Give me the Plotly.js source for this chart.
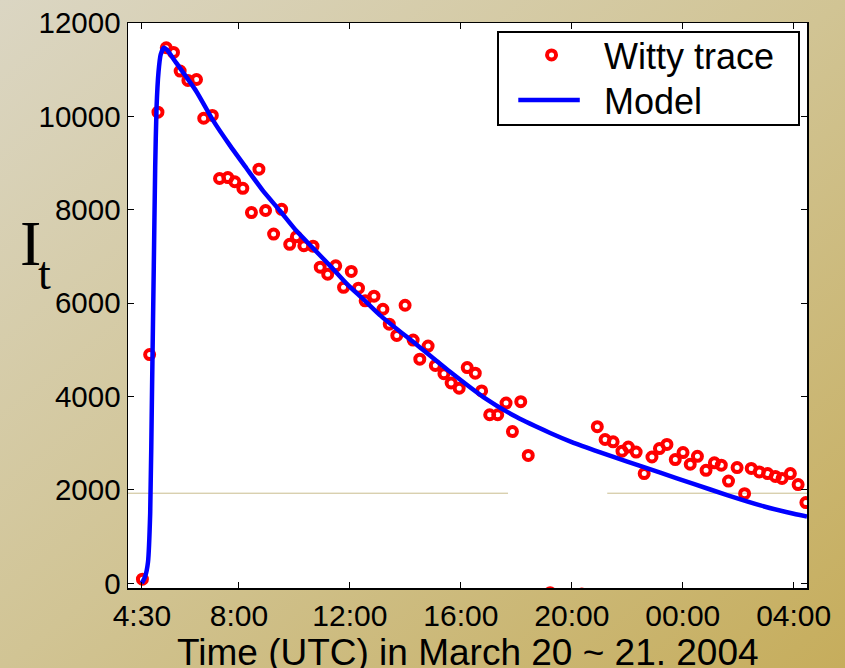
<!DOCTYPE html>
<html>
<head>
<meta charset="utf-8">
<script src="https://cdn.plot.ly/plotly-3.0.1.min.js"></script>
<style>
html,body{margin:0;padding:0;width:845px;height:668px;overflow:hidden;
background:linear-gradient(to bottom right,#dbd6c3 0%,#d1c494 50%,#c6ad5c 100%);}
#chart{width:845px;height:668px;}
</style>
</head>
<body>
<div id="chart"></div>
<script>
// Witty trace (hours UTC from March 20 00:00; >24 = March 21)
const wittyTime = [4.52,4.78,5.08,5.38,5.64,5.88,6.16,6.47,6.73,7.04,7.30,7.60,7.85,8.14,8.45,8.72,8.96,9.25,9.54,9.83,10.07,10.34,10.67,10.93,11.20,11.49,11.77,12.05,12.31,12.55,12.87,13.19,13.42,13.69,13.99,14.28,14.52,14.82,15.08,15.39,15.65,15.94,16.23,16.52,16.75,17.04,17.33,17.63,17.86,18.16,18.43,19.22,20.36,20.92,21.20,21.49,21.81,22.04,22.32,22.61,22.89,23.16,23.43,23.73,24.01,24.27,24.53,24.84,25.14,25.39,25.65,25.96,26.23,26.47,26.76,27.06,27.34,27.58,27.88,28.16,28.44];
const wittyValue = [90,4900,10090,11470,11370,10970,10770,10790,9960,10020,8670,8690,8600,8460,7940,8870,7985,7480,8010,7260,7420,7230,7220,6770,6620,6800,6340,6680,6320,6050,6150,5870,5550,5310,5955,5210,4800,5080,4665,4490,4290,4180,4620,4500,4120,3610,3610,3860,3250,3890,2740,-200,-230,3355,3080,3030,2830,2920,2810,2350,2705,2885,2975,2650,2800,2550,2720,2420,2580,2530,2190,2480,1920,2460,2385,2350,2290,2245,2350,2115,1730];
// Model curve
const modelTime = [4.50,4.62,4.72,4.80,4.87,4.93,4.98,5.03,5.10,5.18,5.30,5.40,5.74,6.46,7.06,7.66,8.27,8.87,9.47,10.07,10.67,11.27,11.88,12.48,13.08,14.40,15.61,16.81,18.01,19.22,20.0,21.0,22.0,23.19,24.39,25.6,26.8,28.0,28.48];
const modelValue = [0,150,450,1500,4300,6800,8900,10200,10950,11330,11470,11430,11145,10540,9920,9390,8890,8405,7985,7549,7180,6810,6420,6085,5745,5113,4530,3990,3560,3220,3025,2810,2605,2370,2130,1890,1670,1490,1430];
// Axis ticks
const xTickVals = [4.5,8,12,16,20,24,28];
const xTickText = ['4:30','8:00','12:00','16:00','20:00','00:00','04:00'];
const yTickVals = [0,2000,4000,6000,8000,10000,12000];
const yTickText = ['0','2000','4000','6000','8000','10000','12000'];
const xTitle = 'Time (UTC) in March 20 ~ 21. 2004';

const traces = [
  {x: wittyTime, y: wittyValue, name: 'Witty trace', type: 'scatter', mode: 'markers',
   marker: {symbol: 'circle-open', size: 9, color: '#ff0000', line: {width: 4, color: '#ff0000'}},
   cliponaxis: true},
  {x: modelTime, y: modelValue, name: 'Model', type: 'scatter', mode: 'lines',
   line: {color: '#0000ff', width: 4.5, shape: 'spline', smoothing: 0.6}, cliponaxis: true}
];

const font = 'Liberation Sans, Arial, sans-serif';
const serif = 'Liberation Serif, Times New Roman, serif';
const layout = {
  width: 845, height: 668,
  margin: {l: 128, r: 38, t: 23, b: 80, pad: 0},
  paper_bgcolor: 'rgba(0,0,0,0)',
  plot_bgcolor: '#ffffff',
  showlegend: true,
  font: {family: font, color: '#000', size: 29},
  xaxis: {
    range: [4.0, 28.48], tickvals: xTickVals, ticktext: xTickText,
    ticks: 'inside', ticklen: 6, tickwidth: 1, tickcolor: '#000',
    showline: true, linecolor: '#000', linewidth: 1.5, mirror: 'ticks',
    showgrid: false, zeroline: false,
    tickfont: {family: font, size: 30, color: '#000'}
  },
  yaxis: {
    range: [-100, 12000], tickvals: yTickVals, ticktext: yTickText,
    ticks: 'inside', ticklen: 6, tickwidth: 1, tickcolor: '#000',
    showline: true, linecolor: '#000', linewidth: 1.5, mirror: 'ticks',
    showgrid: false, zeroline: false,
    tickfont: {family: font, size: 29.5, color: '#000'}
  },
  legend: {
    x: 0.5435, y: 0.9858, xanchor: 'left', yanchor: 'top',
    bgcolor: '#ffffff', bordercolor: '#000', borderwidth: 2,
    font: {family: font, size: 36, color: '#000'}, itemwidth: 95
  },
  shapes: [
    {type: 'line', xref: 'paper', yref: 'y', x0: 0, x1: 0.5597, y0: 1930, y1: 1930, layer: 'below', line: {color: '#c9bd8e', width: 1}},
    {type: 'line', xref: 'paper', yref: 'y', x0: 0.7058, x1: 1, y0: 1930, y1: 1930, layer: 'below', line: {color: '#c9bd8e', width: 1}}
  ],
  annotations: [
    {text: xTitle, xref: 'paper', yref: 'paper', x: 0.5, y: -0.1135, xanchor: 'center', yanchor: 'middle',
     showarrow: false, font: {family: font, size: 37, color: '#000'}},
    {text: 'I', xref: 'paper', yref: 'paper', x: -0.1429, y: 0.6106, xanchor: 'center', yanchor: 'middle',
     showarrow: false, font: {family: serif, size: 64, color: '#000'}},
    {text: 't', xref: 'paper', yref: 'paper', x: -0.1237, y: 0.5558, xanchor: 'center', yanchor: 'middle',
     showarrow: false, font: {family: serif, size: 46, color: '#000'}}
  ]
};
Plotly.newPlot('chart', traces, layout, {displayModeBar: false, staticPlot: true}).then(function(gd){
  // fine-tune legend geometry to match the reference box
  var leg = gd.querySelector('g.legend');
  if (!leg) return;
  var items = leg.querySelectorAll('g.traces');
  var y0 = null;
  items.forEach(function(it, i){
    var tr = it.getAttribute('transform') || '';
    var m = /translate\(\s*([-\d.e]+)[\s,]*([-\d.e]+)?\s*\)/.exec(tr);
    var x = m ? parseFloat(m[1]) : 0;
    var y = m && m[2] ? parseFloat(m[2]) : 0;
    if (i === 0) { y0 = y - 8; y = y0; } else { y = y0 + 45 * i; }
    it.setAttribute('transform', 'translate(' + x + ',' + y + ')');
  });
  var bg = leg.querySelector('rect.bg');
  if (bg) { bg.setAttribute('height', 93); bg.setAttribute('width', 301); }
  leg.querySelectorAll('path.js-line').forEach(function(p){ p.setAttribute('d', 'M19.25,0h61.5'); });
});
</script>
</body>
</html>
